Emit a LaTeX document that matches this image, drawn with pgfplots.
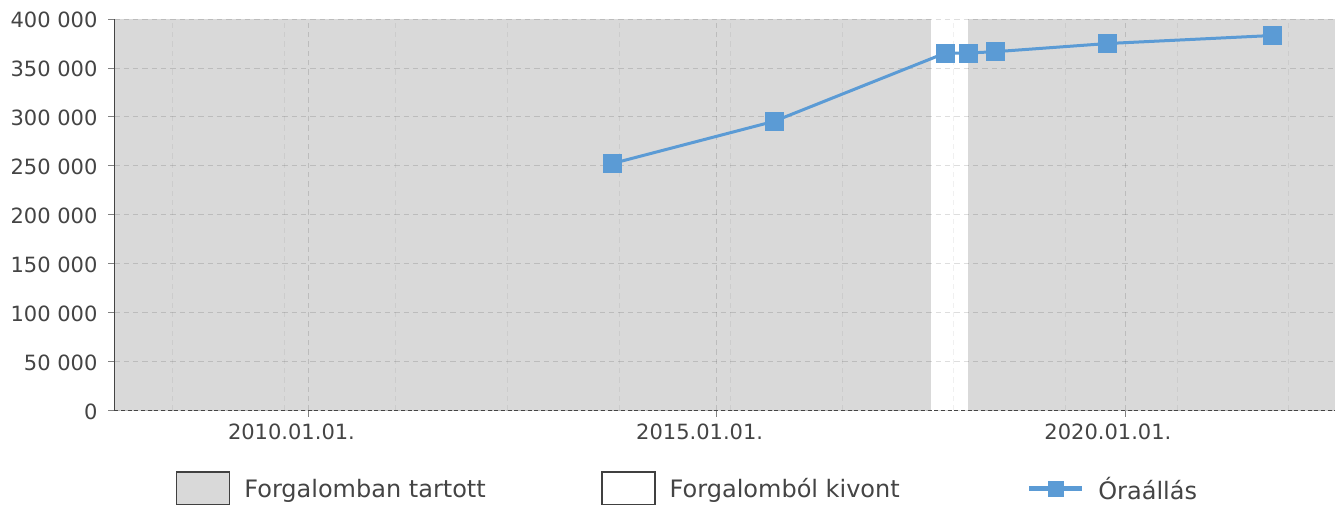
\documentclass[border=0pt]{standalone}
\usepackage{fontspec}
\setmainfont{DejaVu Sans}
\usepackage{pgfplots}
\pgfplotsset{compat=1.18}
\definecolor{bgray}{HTML}{D9D9D9}
\definecolor{lblue}{HTML}{5B9BD5}
\definecolor{txt}{HTML}{444444}
\pgfplotsset{
  boxlegend/.style={legend image code/.code={\draw[##1] (0pt,-12.4pt) rectangle (39.75pt,12.4pt);}},
  mylinelegend/.style={legend image code/.code={\draw[mark repeat=2,mark phase=2,##1,line width=3.5pt,mark size=5.6pt] plot coordinates {(0pt,0pt) (20pt,0pt) (40pt,0pt)};}},
}
\begin{document}
\begin{tikzpicture}
\begin{axis}[
  set layers,
  scale only axis, width=915.15pt, height=293.6pt,
  xmin=2007.619, xmax=2022.565, ymin=0, ymax=400000,
  scaled y ticks=false, scaled x ticks=false,
  axis x line*=bottom, axis y line*=left,
  x axis line style={-, dash pattern=on 3pt off 2pt, draw=txt, line width=0.75pt},
  y axis line style={-, draw=txt, line width=1pt},
  xtick={2010,2015,2020},
  xticklabels={2010.01.01.,2015.01.01.,2020.01.01.},
  minor xtick={2008.334,2009.701,2011.068,2012.435,2013.802,2015.169,2016.536,2017.903,2019.270,2020.637,2022.004},
  ytick={0,50000,100000,150000,200000,250000,300000,350000,400000},
  yticklabels={0,50 000,100 000,150 000,200 000,250 000,300 000,350 000,400 000},
  tick align=outside, major tick length=4.5pt, minor tick length=0pt,
  tick style={draw=gray, line width=0.75pt},
  xmajorgrids, xminorgrids, ymajorgrids,
  major grid style={dash pattern=on 4pt off 3pt, draw=black, draw opacity=0.13, line width=0.75pt},
  minor grid style={dash pattern=on 4pt off 3pt, draw=black, draw opacity=0.06, line width=0.75pt},
  ticklabel style={font=\fontsize{15.75}{18}\selectfont, text=txt},
  xticklabel style={xshift=-12.9pt, yshift=-2.3pt},
  yticklabel style={xshift=-4.6pt, yshift=-0.8pt},
  legend columns=3,
  legend cell align=left,
  legend style={at={(axis description cs:0.0506,-0.199)}, anchor=west,
    draw=none, fill=none, inner sep=0pt, outer sep=0pt,
    font=\fontsize{18}{21.6}\selectfont, text=txt,
    nodes={inner sep=0pt, yshift=-0.5pt},
    /tikz/column 1/.style={column sep=10.5pt},
    /tikz/column 2/.style={column sep=86.7pt},
    /tikz/column 3/.style={column sep=10.5pt},
    /tikz/column 4/.style={column sep=95.2pt},
    /tikz/column 5/.style={column sep=10.2pt}},
]
\addlegendimage{boxlegend, fill=bgray, draw=black!75, line width=1pt}
\addlegendentry{Forgalomban tartott}
\addlegendimage{boxlegend, fill=white, draw=black!75, line width=1pt}
\addlegendentry{Forgalomból kivont}
\addplot[fill=bgray, draw=none, forget plot, on layer=axis background] coordinates {(2007.619,0) (2007.619,400000) (2017.622,400000) (2017.622,0)};
\addplot[fill=bgray, draw=none, forget plot, on layer=axis background] coordinates {(2018.079,0) (2018.079,400000) (2022.565,400000) (2022.565,0)};
\addplot[mylinelegend, color=lblue, line width=2.25pt, mark=square*, mark size=6.75pt, mark options={fill=lblue, draw=lblue, line width=0.5pt}] coordinates {
(2013.719,252400) (2015.699,295500) (2017.798,365300) (2018.076,365300) (2018.415,366700) (2019.782,375000) (2021.799,383200)};
\addlegendentry{Óraállás}
\end{axis}
\pgfresetboundingbox
\path[use as bounding box] (-85.7pt,-70.1pt) rectangle (915.5pt,307.9pt);
\end{tikzpicture}
\end{document}
